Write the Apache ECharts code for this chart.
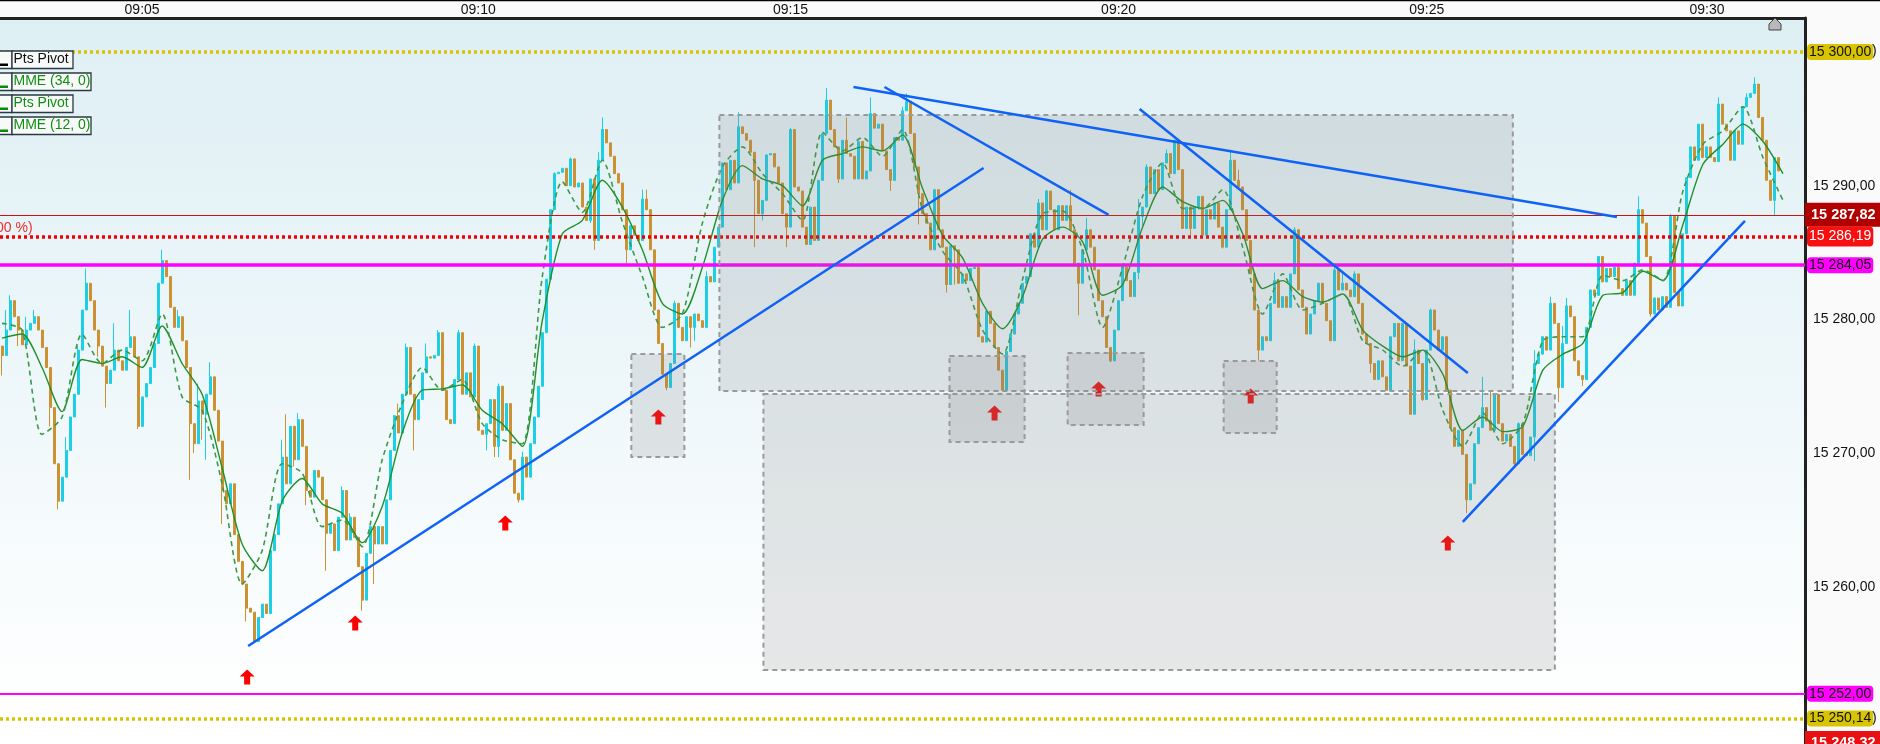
<!DOCTYPE html>
<html><head><meta charset="utf-8">
<style>html,body{margin:0;padding:0;background:#fafafa}#c{width:1880px;height:744px}</style>
<script src="https://cdn.jsdelivr.net/npm/echarts@6/dist/echarts.min.js"></script>
</head><body><div id="c"></div>
<script>
const priceBase = 15000;
const barCount = 451;
const tickBars = [35,119,197,279,356,426];
const tickLabels = ['09:05','09:10','09:15','09:20','09:25','09:30'];
const firstOpen = 278;
const closes = [
277.3,279.2,281.4,280.2,279.2,278.1,279.2,279.7,280.2,279.2,
277.9,276.4,273.4,269.2,266.4,268.2,270.2,272.7,274.4,277.7,
280.7,282.7,281.4,279.2,278,276.5,275.2,276.2,277.7,276.9,
276.2,277.9,278.7,277.2,272,274.2,275.2,276.4,278.2,282.7,
284.4,283.2,280.9,279.4,280.2,278.4,276.4,272.2,270.7,273.9,
272.9,274.4,275.7,273.2,270.9,267.2,266.2,267.7,263.9,261.9,
260.2,258.4,258.1,255.9,257.7,258.7,258,262.7,263.9,266.2,
269.7,267.7,272,269.5,272.5,270.5,267.2,266.7,268.7,268.2,
266.5,264,264.7,262.7,265.2,267.2,263.5,265.2,263.7,261.5,
259,262.5,264.5,263.2,264.5,263.2,266.5,270.2,272.8,271.5,
274.4,277.9,274.4,272.5,274,276,277.2,277.1,277.3,279,
274.7,272.5,272.2,275.5,279,274.4,276,274.2,278,271.7,
271.4,272.2,274,270.5,275,271.7,273.7,269.5,267,266.5,
269.7,268.2,270.7,272.7,275,279,283,288.2,290.9,291,
291.3,290,292,289.9,290.2,288.4,287.4,290.5,285.9,291.9,
294.2,293.2,292.2,290.9,290.2,288.2,285.2,287,286.3,285.9,
289,288.2,285.2,280.7,278.2,275.9,274.9,276.7,281.2,279.4,
278.4,280.2,279.4,280.4,279.9,279.4,283.2,282.8,285.4,286.9,
291.7,289.7,291.9,290.2,294.4,293.9,293.4,292.5,290.4,287.9,
288.9,292.3,292.4,291.4,290.2,287.9,286.9,294.2,289.9,289.6,
286.9,285.6,288.4,285.9,290.4,293.9,296.4,294.2,292.9,290.5,
293.4,292.4,292.2,290.5,293.3,290.5,291.1,295.4,294.3,294.6,
292.6,291.2,290.4,293.6,293.4,295.6,296.3,293.9,291.4,289.4,
287.9,287.2,285.2,289.7,286.7,285.4,282.6,285.5,285.2,282.7,
283.4,282.9,283.8,283.9,278.7,278.3,280.6,279.7,277.9,276.2,
274.7,277.6,278.9,280.4,281.2,282.7,283.2,286.4,285.4,288.7,
286.7,289.6,288.2,286.7,288.5,287.4,288.5,286.7,284.2,282.7,
285.2,286.7,285.4,283.7,281.4,280.2,277.9,276.9,279.2,281.4,
283.9,282.9,281.7,283.5,287.7,288.4,291.4,289.4,291.2,289.7,
291.7,292.4,290.9,293.4,291.2,286.8,288.4,286.8,288.4,289.2,
286.3,288.2,287.5,288.7,286.9,285.4,288.2,291.9,290.4,289.9,
288.2,285.9,283.4,280.7,277.7,278.7,278.4,281.2,282.9,280.9,
281.7,280.9,283.4,286.7,282.2,280.9,278.9,280.4,281.4,282.7,
281.2,279.9,278.4,283.7,282.2,282.7,282.2,281.7,283.4,281.2,
278.9,278.2,276.7,275.5,276.9,275.7,274.7,278.7,279.7,276.9,
279.7,276.5,272.9,277.7,276.7,274,277.7,280.7,279.2,277.7,
278.7,274.7,271.9,270.5,271.7,269.9,266.5,267.7,270.7,271.9,
273.4,272.4,271.7,274.4,272.2,270.9,271.4,270.5,269.2,272.2,
269.9,269.8,271.2,276.7,277.4,278.7,277.7,281.2,279.7,274.9,
278.2,281,280.2,276.9,275.8,275.5,279.4,282.2,281.8,284.7,
282.8,283.8,283.2,283.9,282.3,281.8,282.9,281.8,284.2,288.2,
287.2,284.7,280.4,281.6,280.7,281.7,280.9,287.7,282,281,
286.4,290.6,292.9,291.9,294.6,292.1,292.9,292.1,291.8,296.1,
294.6,294.1,291.9,294.1,293.1,295.9,296.6,296.9,297.6,295.1,
293.4,290.4,288.9,292.1,291.1
];
const wickHighs = {1:280.7,2:281.8,3:280.9,6:280.2,8:280.7,16:271.2,19:278,21:283.8,24:278.7,28:279.7,32:280.7,34:276.5,40:285.2,44:280.7,49:275.2,52:276.8,70:271,71:272.9,74:273,85:267.5,87:265.5,99:273.7,101:278.2,106:278.2,109:279.2,114:279.2,118:278.2,124:275.2,130:270.1,138:291,142:292.1,149:292.5,150:295.1,160:289.7,161:289.7,168:281.4,176:283.6,184:295.5,197:294.3,198:291.9,206:297.3,211:295.1,217:296.6,218:295.4,225:295.9,226:296.9,227:295.8,259:289,261:289.7,267:289.7,271:287.6,284:289,286:291.6,287:290.4,291:292.7,293:293.4,307:292.7,309:291.2,310:289.9,318:283.5,323:286.9,324:284.9,333:283.9,335:283.5,338:283.6,353:278.5,357:280.8,370:275.7,372:274.7,379:272.3,383:277.7,387:281.7,390:279.5,391:281.6,409:289.2,417:287.9,429:296.6,436:296.9,438:298.1};
const wickLows = {0:275.8,4:278,12:272,14:265.8,24:277.2,26:273.4,27:275.7,34:271.8,35:273,47:268,48:270,50:271,51:269.5,55:264.7,61:257.4,67:258.4,73:269,76:266.1,81:261.2,90:258.2,93:260.2,103:270.2,121:270.2,123:269.7,124:269.7,129:266.3,137:284,147:287.2,148:285.2,156:284.2,166:274.7,172:277.9,173:278.4,176:279.4,188:285.4,190:287.4,196:285.4,204:286.6,209:290.2,222:289.6,229:287.1,236:282,238:282.6,246:278.7,269:280.3,277:276.8,284:283,285:287,297:286.3,305:285.3,314:276.9,342:276,352:272.9,353:273.5,355:273.9,366:265.5,378:269,383:269.4,389:273.8,395:275,396:276.2,412:280.2,443:287.8};
const maStep = 5;
const mme34 = [278.6,278.9,276.4,273.1,277,276.7,277.2,276.4,279.5,276.7,274.4,268.9,263.2,261.2,266.4,268.1,266.2,265.5,263.3,266,271.5,274.7,274.8,275.1,273.2,272.2,270.5,279.9,286.4,287.4,290.4,288.4,285.2,281.2,280.4,283.9,288.9,291.5,290.5,290,288.5,291.9,292.4,292.9,292.6,293.8,289.8,286.3,284.6,281.2,279.3,281.7,286,286.9,285.8,281.8,282.6,286.9,289.9,288.8,288.3,288.9,286.4,282.3,282.9,281.7,281.3,281.9,279.2,278,277.2,277.7,275.9,271.7,272.7,271.6,272,276.2,277.4,278.2,281.8,282,283.6,282.9,287.1,291.6,293.1,294.6,293.3,290.9];
const mme12 = [279.7,279.2,271.4,272.7,278.9,276.7,277.7,276.9,280.4,274.2,273.2,267.7,260.2,262.7,269.2,268.5,264.5,265,263,269.5,273.7,276.4,274.7,275.5,272.2,271,270.7,283.2,290.3,288,291.9,287.3,283.2,279.4,280.4,287.2,291.4,292.9,290.9,289.4,287.4,294,292.6,293.6,292.2,294.2,288.2,285.1,283.3,279.2,277.4,283,287.9,288.1,285.2,279.4,283.9,289.2,291.7,288.3,288.3,289.7,285.4,280.4,283.4,280.7,281.2,281.9,278.4,277.7,276.5,277.7,273.2,270.5,273,270.7,272.2,278.4,278.7,278.7,283.3,282.9,283.7,282.9,289.6,293.1,294.1,295.9,292.1,288.9];
// zones: first bar, last bar, upper price, lower price
const zones = [[179.25,377.5,295.29,274.64],[190.25,388,274.42,253.78],[157.25,170.5,277.41,269.71],[236.75,255.5,277.26,270.83],[266.25,285.25,277.49,272.1],[305.25,318.5,276.89,271.5]];
// trend lines: bar, price, bar, price
const trends = [[61.5,255.57,245.25,291.32],[212.75,297.38,403.5,287.66],[220.5,297.38,276.5,287.81],[284.25,295.74,366.25,275.99],[365,264.85,435.5,287.36]];
const arrowBars = [61.25,88.25,125.75,164,248,274,312,361.25];
const arrowPrices = [253.25,257.29,264.77,272.7,273,274.79,274.27,263.28];
const axisPrices = [15290,15280,15270,15260];
const levels = [
 {v:15300,c:'#d8c400',w:3.5,t:[3,3],bg:'#d8c400',fg:'#111',txt:'15 300,00'},
 {v:15287.82,c:'#d01010',w:1.2,t:'solid',bg:'#b00000',fg:'#fff',txt:'15 287,82',bold:true},
 {v:15286.19,c:'#f00000',w:3.5,t:[3,3],bg:'#f81010',fg:'#fff',txt:'15 286,19',pad:3},
 {v:15284.05,c:'#ff00ff',w:3.5,t:'solid',bg:'#ff00ff',fg:'#111',txt:'15 284,05'},
 {v:15252,c:'#ff00ff',w:2,t:'solid',bg:'#ff00ff',fg:'#111',txt:'15 252,00'},
 {v:15250.14,c:'#d8c400',w:3.5,t:[3,3],bg:'#d8c400',fg:'#111',txt:'15 250,14'},
 {v:15248.32,c:'rgba(0,0,0,0)',w:1,t:'solid',bg:'#e81010',fg:'#fff',txt:'15 248,32',bold:true}
];
const legendRows = [['Pts Pivot','#111',61],['MME (34, 0)','#0f8f0f',79],['Pts Pivot','#0f8f0f',61],['MME (12, 0)','#0f8f0f',79]];

const P = v => priceBase + v;
const categories = new Array(barCount).fill('');
tickBars.forEach((b,i)=>categories[b]=tickLabels[i]);
const candles = closes.map((c,i)=>{
  const o = i ? closes[i-1] : firstOpen;
  const hi = Math.max(o,c,wickHighs[i]||0), lo = Math.min(o,c,wickLows[i]||999);
  return [P(o),P(c),P(lo),P(hi)];
});
const font = '"Liberation Sans", Arial, sans-serif';

const series = [
 {type:'scatter',name:'arrows',xAxisIndex:1,z:1,silent:true,symbol:'path://M7.5 0 L15 7 L10.5 7 L10.5 15 L4.5 15 L4.5 7 L0 7 Z',symbolSize:[15,15],itemStyle:{color:'#ff0000',opacity:1},
  data:arrowBars.map((b,i)=>[b,P(arrowPrices[i])])},
 {type:'candlestick',name:'price',z:2,barWidth:2.5,data:candles,large:false,silent:true,
  itemStyle:{color:'#1ccfe4',color0:'#cc9130',borderColor:'#1ccfe4',borderColor0:'#cc9130',borderWidth:1}},
 {type:'line',name:'MME (34, 0)',z:3,smooth:0.25,showSymbol:false,silent:true,lineStyle:{color:'#1f8f2a',width:1.4},data:mme34.map((v,i)=>[i*maStep,P(v)])},
 {type:'line',name:'MME (12, 0)',z:3,smooth:0.25,showSymbol:false,silent:true,lineStyle:{color:'#3a9a48',width:1.6,type:[5,4]},data:mme12.map((v,i)=>[i*maStep,P(v)])},
 {type:'line',name:'levels',z:4,data:[],silent:true,
  markLine:{silent:true,symbol:'none',animation:false,precision:2,
   data:levels.map(l=>({yAxis:l.v,lineStyle:{color:l.c,width:l.w,type:l.t},
     label:{show:true,position:'end',distance:l.bold?0:2,formatter:l.txt,color:l.fg,backgroundColor:l.bg,
       borderRadius:l.bold?0:4,padding:l.bold?[5,6,4,6]:[l.pad||1,2,l.pad||1,2],fontFamily:font,fontSize:l.bold?14.5:14,fontWeight:l.bold?'bold':'normal'}}))}},
 {type:'custom',name:'zones',xAxisIndex:1,z:5,silent:true,clip:true,
  encode:{x:[0,1],y:[2,3]},data:zones.map(z=>[z[0],z[1],P(z[2]),P(z[3])]),
  renderItem:(p,api)=>{
    const a=api.coord([api.value(0),api.value(2)]),b=api.coord([api.value(1),api.value(3)]);
    return {type:'rect',shape:{x:a[0],y:a[1],width:b[0]-a[0],height:b[1]-a[1]},
      style:{fill:'rgba(128,128,128,0.18)',stroke:'#9a9a9a',lineWidth:2,lineDash:[5,4]}};
  }}
];
trends.forEach((t,i)=>series.push({type:'line',name:'trend'+i,xAxisIndex:1,z:6,showSymbol:false,silent:true,
  lineStyle:{color:'#0f62f5',width:2.5},data:[[t[0],P(t[1])],[t[2],P(t[3])]]}));

const chart = echarts.init(document.getElementById('c'),null,{renderer:'canvas'});
const legendGfx = [];
legendRows.forEach((r,i)=>{
  const y = 51 + i*22;
  legendGfx.push({type:'rect',z:100,shape:{x:-2,y:y,width:14,height:17.5},style:{fill:'#f8fafa',stroke:'#2b3a40',lineWidth:1.3}});
  legendGfx.push({type:'rect',z:101,shape:{x:0,y:y+12.5,width:8,height:2.5},style:{fill:i?'#0a8a0a':'#000'}});
  legendGfx.push({type:'rect',z:100,shape:{x:12,y:y,width:r[2],height:17.5},style:{fill:'#f8fafa',stroke:'#2b3a40',lineWidth:1.3}});
  legendGfx.push({type:'text',z:101,x:13.5,y:y+1,style:{text:r[0],fill:r[1],fontSize:14,fontFamily:'Liberation Sans',overflow:'none'}});
});
chart.setOption({
 animation:false,backgroundColor:'#fafafa',
 grid:{left:0,right:75,top:18,bottom:0,show:true,borderWidth:0,
  backgroundColor:{type:'linear',x:0,y:0,x2:0,y2:1,colorStops:[{offset:0,color:'#deeff4'},{offset:0.5,color:'#eef7fa'},{offset:0.95,color:'#ffffff'},{offset:1,color:'#ffffff'}]}},
 xAxis:[
  {type:'category',position:'top',data:categories,boundaryGap:true,axisTick:{show:false},splitLine:{show:false},
   axisLine:{show:true,lineStyle:{color:'#222',width:3}},
   axisLabel:{show:true,interval:(i,v)=>v!=='',margin:1,color:'#111',fontFamily:font,fontSize:14}},
  {type:'value',show:false,min:-0.5,max:barCount-0.5,splitLine:{show:false}}
 ],
 yAxis:{type:'value',position:'right',min:15248.24,max:15302.54,scale:true,splitLine:{show:false},axisTick:{show:false},
  axisLine:{show:true,onZero:false,lineStyle:{color:'#222',width:3}},
  axisLabel:{customValues:axisPrices,margin:8,color:'#111',fontFamily:font,fontSize:14,
   formatter:v=>String(v).slice(0,2)+' '+String(v).slice(2)+',00'}},
 tooltip:{show:false},
 series,
 graphic:{elements:[
  {type:'line',z:100,shape:{x1:0,y1:0.5,x2:1880,y2:0.5},style:{stroke:'#000',lineWidth:1.5}},
  {type:'polygon',z:100,shape:{points:[[1769,24],[1775,18],[1781,24],[1781,30],[1769,30]]},style:{fill:'#b8b8b8',stroke:'#444',lineWidth:1}},
  {type:'text',z:0,x:-4,y:221,style:{text:'00 %)',fill:'#e83030',font:'14px '+font}},
  {type:'text',z:0,x:1872,y:44,style:{text:')',fill:'#111',font:'14px '+font}},
  {type:'text',z:0,x:1872,y:711,style:{text:')',fill:'#111',font:'14px '+font}},
  ...legendGfx
 ]}
});
</script></body></html>
